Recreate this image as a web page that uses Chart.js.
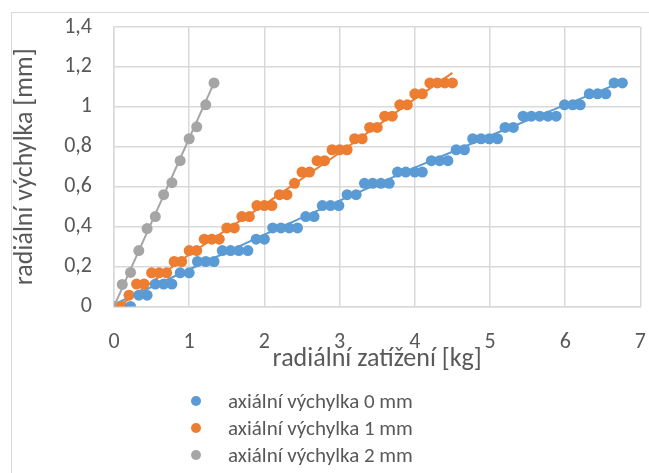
<!DOCTYPE html>
<html>
<head>
<meta charset="utf-8">
<script src="https://cdn.jsdelivr.net/npm/chart.js@4.4.1/dist/chart.umd.min.js"></script>
<style>
  body { margin: 0; background: #fff; }
  #wrap { position: relative; width: 649px; height: 473px; overflow: hidden; }
  #frame { position: absolute; left: 11px; top: 12px; width: 660px; height: 480px; border: 1px solid #d9d9d9; }
  #legend { position: absolute; left: 191px; top: 387px; font-family: Carlito, "Liberation Sans", sans-serif; font-size: 21px; color: #595959; }
  #legend div { height: 27px; display: flex; align-items: center; }
  #legend span.dot { width: 10px; height: 10px; border-radius: 50%; display: inline-block; margin-right: 27px; }
</style>
</head>
<body>
<div id="wrap">
  <div id="frame"></div>
  <canvas id="chart" width="649" height="473"></canvas>
  <div id="legend"></div>
</div>
<script>
// axiální výchylka 0 mm
const load0 = [0.22, 0.33, 0.44, 0.55, 0.66, 0.77, 0.88, 1.0, 1.11, 1.22, 1.33, 1.44, 1.55, 1.66, 1.78,
  1.89, 2.0, 2.11, 2.22, 2.33, 2.44, 2.55, 2.66, 2.77, 2.88, 2.99, 3.1, 3.22, 3.33, 3.44,
  3.55, 3.66, 3.77, 3.88, 4.0, 4.1, 4.22, 4.33, 4.44, 4.55, 4.66, 4.77, 4.88, 4.99, 5.1,
  5.2, 5.31, 5.44, 5.55, 5.66, 5.77, 5.88, 5.99, 6.1, 6.2, 6.32, 6.43, 6.54, 6.65, 6.76];
const defl0 = [0, 0.056, 0.056, 0.112, 0.112, 0.112, 0.168, 0.168, 0.225, 0.225, 0.225, 0.28, 0.28, 0.28, 0.28,
  0.337, 0.337, 0.393, 0.393, 0.393, 0.393, 0.45, 0.45, 0.505, 0.505, 0.505, 0.56, 0.56, 0.617, 0.617,
  0.617, 0.617, 0.673, 0.673, 0.673, 0.673, 0.73, 0.73, 0.73, 0.785, 0.785, 0.84, 0.84, 0.84, 0.84,
  0.897, 0.897, 0.953, 0.953, 0.953, 0.953, 0.953, 1.01, 1.01, 1.01, 1.065, 1.065, 1.065, 1.12, 1.12];

// axiální výchylka 1 mm
const load1 = [0.1, 0.2, 0.3, 0.4, 0.5, 0.6, 0.7, 0.8, 0.9, 1.0, 1.1, 1.2, 1.3, 1.4, 1.5,
  1.6, 1.7, 1.8, 1.9, 2.0, 2.1, 2.2, 2.3, 2.4, 2.5, 2.6, 2.7, 2.8, 2.9, 3.0,
  3.1, 3.2, 3.3, 3.4, 3.5, 3.6, 3.7, 3.8, 3.9, 4.0, 4.1, 4.2, 4.3, 4.4, 4.5];
const defl1 = [0, 0.056, 0.112, 0.112, 0.168, 0.168, 0.168, 0.225, 0.225, 0.28, 0.28, 0.337, 0.337, 0.337, 0.393,
  0.393, 0.45, 0.45, 0.505, 0.505, 0.505, 0.56, 0.56, 0.617, 0.673, 0.673, 0.73, 0.73, 0.785, 0.785,
  0.785, 0.84, 0.84, 0.897, 0.897, 0.953, 0.953, 1.01, 1.01, 1.065, 1.065, 1.12, 1.12, 1.12, 1.12];

// axiální výchylka 2 mm
const load2 = [0, 0.11, 0.22, 0.33, 0.44, 0.55, 0.66, 0.77, 0.88, 1.0, 1.1, 1.22, 1.33];
const defl2 = [0, 0.11, 0.17, 0.28, 0.39, 0.45, 0.56, 0.62, 0.73, 0.84, 0.9, 1.01, 1.12];

// trend lines
const trend0X = [0, 1, 2, 3, 4, 5, 6, 6.76];
const trend0Y = [0.01, 0.185, 0.36, 0.53, 0.695, 0.855, 1.01, 1.125];
const trend1X = [0.1, 1, 2, 3, 4, 4.5];
const trend1Y = [0.01, 0.26, 0.51, 0.77, 1.04, 1.17];
const trend2X = [0, 1.33];
const trend2Y = [0, 1.12];

const seriesNames = ['axiální výchylka 0 mm', 'axiální výchylka 1 mm', 'axiální výchylka 2 mm'];
const colors = ['#5b9bd5', '#ed7d31', '#a5a5a5'];
const xTicks = [0, 1, 2, 3, 4, 5, 6, 7];

const toPoints = (xs, ys) => xs.map((x, i) => ({ x: x, y: ys[i] }));
const font = "Carlito, 'Liberation Sans', sans-serif";

const trend = (xs, ys, c) => ({
    data: toPoints(xs, ys), showLine: true, borderColor: c, borderWidth: 2,
    pointRadius: 0, fill: false, order: 2
});
const dots = (xs, ys, c, name) => ({
    label: name, data: toPoints(xs, ys), backgroundColor: c, borderColor: c,
    pointRadius: 5.5, pointBorderWidth: 0, showLine: false, order: 1
});

const ctx = document.getElementById('chart').getContext('2d');
new Chart(ctx, {
    type: 'scatter',
    data: {
        datasets: [
            trend(trend0X, trend0Y, colors[0]),
            trend(trend1X, trend1Y, colors[1]),
            trend(trend2X, trend2Y, colors[2]),
            dots(load0, defl0, colors[0], seriesNames[0]),
            dots(load1, defl1, colors[1], seriesNames[1]),
            dots(load2, defl2, colors[2], seriesNames[2])
        ]
    },
    options: {
        responsive: false,
        animation: false,
        devicePixelRatio: 1,
        layout: { padding: { left: 10, right: 6, top: 27, bottom: 98 } },
        plugins: { legend: { display: false }, tooltip: { enabled: false } },
        scales: {
            x: {
                type: 'linear', min: 0, max: 7,
                afterBuildTicks: axis => { axis.ticks = xTicks.map(v => ({ value: v })); },
                // invisible tick marks push the labels down without widening the side padding
                grid: { color: '#d9d9d9', lineWidth: 1.5, drawTicks: true, tickLength: 20, tickColor: 'rgba(0,0,0,0)' },
                border: { color: '#d9d9d9', width: 1.5 },
                ticks: { color: '#595959', font: { family: font, size: 22 }, padding: 3 },
                title: { display: true, text: 'radiální zatížení [kg]', color: '#595959',
                    font: { family: font, size: 26 }, padding: { top: -15, bottom: 0 } }
            },
            y: {
                min: 0, max: 1.4,
                ticks: { stepSize: 0.2, color: '#595959', font: { family: font, size: 22 }, padding: 2,
                    callback: v => String(Math.round(v * 10) / 10).replace('.', ',') },
                grid: { color: '#d9d9d9', lineWidth: 1.5, drawTicks: true, tickLength: 20, tickColor: 'rgba(0,0,0,0)' },
                border: { color: '#d9d9d9', width: 1.5 },
                title: { display: true, text: 'radiální výchylka [mm]', color: '#595959',
                    font: { family: font, size: 26 }, padding: { top: 0, bottom: 21 } }
            }
        }
    }
});

// legend below the plot, one series per row
const legend = document.getElementById('legend');
seriesNames.forEach((name, i) => {
    const row = document.createElement('div');
    row.innerHTML = '<span class="dot" style="background:' + colors[i] + '"></span>' + name;
    legend.appendChild(row);
});
</script>
</body>
</html>
